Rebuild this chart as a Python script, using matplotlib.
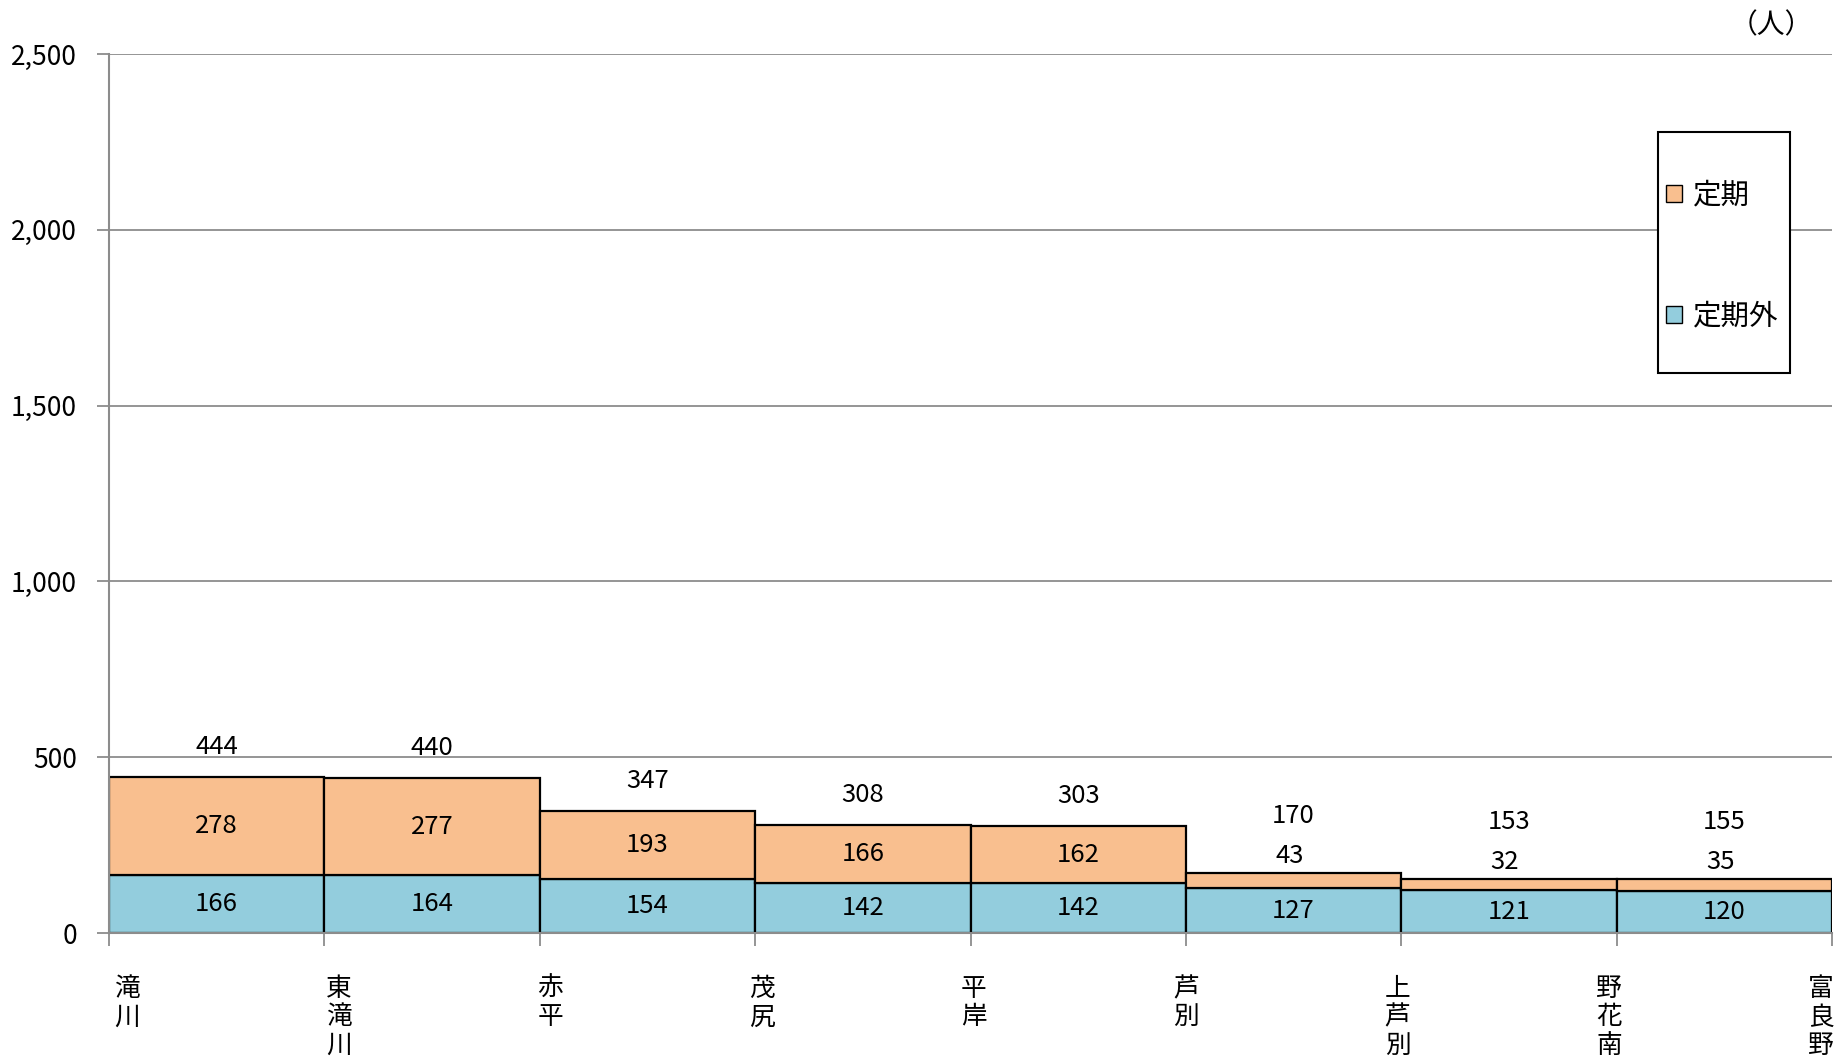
import matplotlib
matplotlib.use("Agg")
import matplotlib.pyplot as plt
from matplotlib.patches import Rectangle, Patch
from matplotlib.ticker import FuncFormatter

plt.rcParams['font.family'] = ['Noto Sans CJK JP', 'DejaVu Sans']

# data
stations = ['滝川', '東滝川', '赤平', '茂尻', '平岸', '芦別', '上芦別', '野花南', '富良野']
teiki = [278, 277, 193, 166, 162, 43, 32, 35]          # 定期
teikigai = [166, 164, 154, 142, 142, 127, 121, 120]   # 定期外
totals = [444, 440, 347, 308, 303, 170, 153, 155]

c_teiki = '#F9BF8F'
c_gai = '#93CDDD'
grid_c = '#8C8C8C'

W, H = 1835, 1061
fig = plt.figure(figsize=(W / 100, H / 100), dpi=100)
ax = fig.add_axes([109 / W, 1 - 933 / H, (1832 - 109) / W, (933 - 54) / H])

n = len(teiki)
xs = list(range(n))
ax.bar(xs, teikigai, width=1, align='edge', color=c_gai, edgecolor='black', linewidth=1.6, zorder=3)
ax.bar(xs, teiki, width=1, align='edge', bottom=teikigai, color=c_teiki, edgecolor='black',
       linewidth=1.6, zorder=3)

ax.set_xlim(0, n)
ax.set_ylim(0, 2500)
ax.set_yticks(range(0, 2501, 500))
ax.yaxis.set_major_formatter(FuncFormatter(lambda v, p: f'{int(v):,}'))
ax.yaxis.grid(True, color=grid_c, linewidth=1.3, zorder=0)
ax.set_axisbelow(True)
ax.set_xticks(range(n + 1))
ax.set_xticklabels([])
ax.tick_params(axis='y', length=9, width=1.3, color=grid_c, labelsize=19, pad=14)
ax.tick_params(axis='x', length=9, width=1.3, color=grid_c)
for s in ['top', 'right']:
    ax.spines[s].set_visible(False)
for s in ['left', 'bottom']:
    ax.spines[s].set_color(grid_c)
    ax.spines[s].set_linewidth(1.5)
    ax.spines[s].set_zorder(4)

# value labels
fs = 18.5
for i in xs:
    ax.text(i + 0.5, teikigai[i] / 2, str(teikigai[i]), ha='center', va='center', fontsize=fs, zorder=5)
    if teiki[i] < 60:
        ax.annotate(str(teiki[i]), (i + 0.5, totals[i]), xytext=(-4, 17), textcoords='offset pixels',
                    ha='center', va='center', fontsize=fs)
        off = 57
    else:
        ax.text(i + 0.5, teikigai[i] + teiki[i] / 2, str(teiki[i]), ha='center', va='center',
                fontsize=fs, zorder=5)
        off = 30
    ax.annotate(str(totals[i]), (i + 0.5, totals[i]), xytext=(0, off), textcoords='offset pixels',
                ha='center', va='center', fontsize=fs)

# vertical station names
for i, name in enumerate(stations):
    dx = 18 - 29 * i / n
    ax.annotate('\n'.join(name), (i, 0), xycoords=('data', 'axes fraction'),
                xytext=(dx, -43), textcoords='offset pixels', ha='center', va='top',
                fontsize=18.5, linespacing=1.12, annotation_clip=False)

# legend
handles = [Patch(facecolor=c_teiki, edgecolor='black', linewidth=1),
           Patch(facecolor=c_gai, edgecolor='black', linewidth=1)]
fig.legend(handles, ['定期', '定期外'], loc='center left',
           bbox_to_anchor=(1666 / W, 1 - 256 / H), frameon=False, fontsize=20.5,
           handlelength=0.55, handleheight=0.55, handletextpad=0.4,
           labelspacing=3.2, borderpad=0, borderaxespad=0)
fig.add_artist(Rectangle((1658 / W, 1 - 373 / H), (1790 - 1658) / W, (373 - 132) / H,
                         transform=fig.transFigure, facecolor='white', edgecolor='black',
                         linewidth=1.5, zorder=2))

fig.text(1771 / W, 1 - 25 / H, '（人）', ha='center', va='center', fontsize=20)

fig.savefig('out.png', dpi=100)
